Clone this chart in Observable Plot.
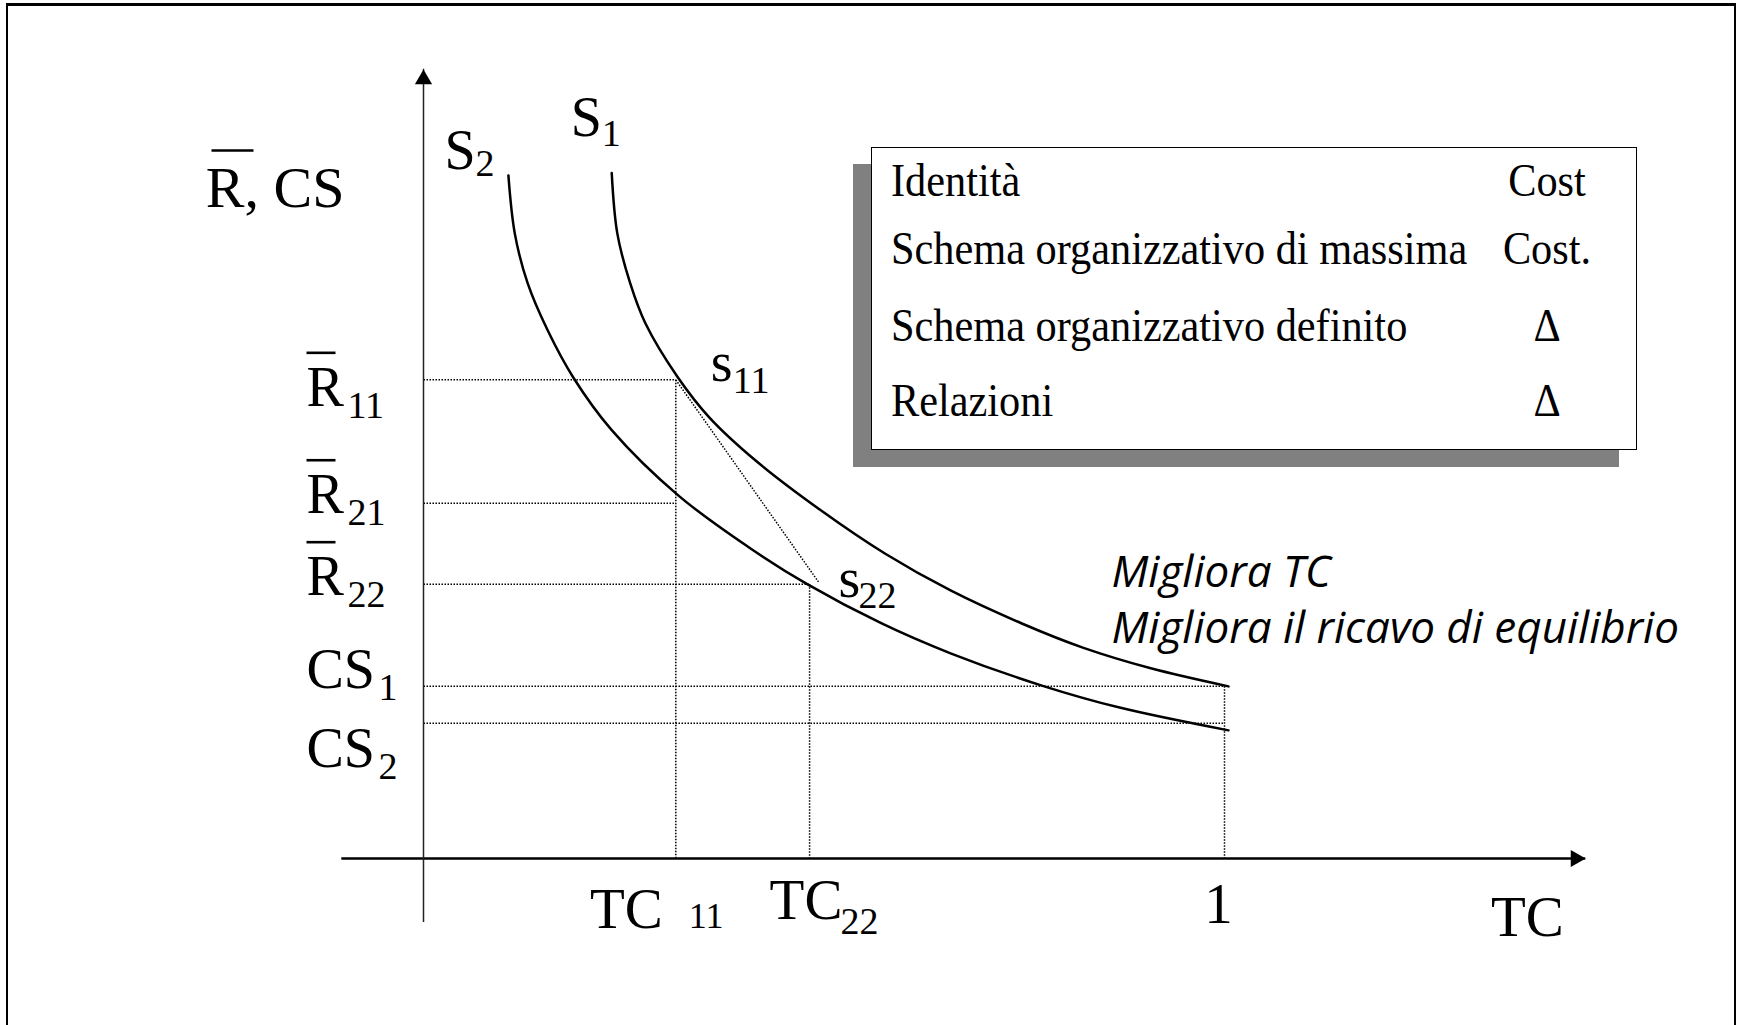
<!DOCTYPE html>
<html>
<head>
<meta charset="utf-8">
<script src="https://cdn.jsdelivr.net/npm/d3@7"></script>
<script src="https://cdn.jsdelivr.net/npm/@observablehq/plot@0.6"></script>
<style>
  html, body { margin: 0; padding: 0; background: #fff; overflow: hidden; }
  #wrap { position: relative; width: 1738px; height: 1025px; overflow: hidden; background: #fff; }
  #chart { position: absolute; left: 0; top: 0; }
  #frame { position: absolute; left: 6px; top: 3px; width: 1726px; height: 1200px;
           border: 2.5px solid #000; border-top-width: 3px; border-bottom: none; pointer-events: none; }
  #legend { position: absolute; left: 871px; top: 147px; width: 764px; height: 301px;
            border: 1.5px solid #000; background: #fff; box-shadow: -18px 17px 0 #808080;
            font-family: "Liberation Serif", serif; font-size: 46px; line-height: 46px; color: #000; }
  #legend .row { position: absolute; left: 18.5px; white-space: nowrap;
                 transform: scaleX(0.92); transform-origin: 0 50%; }
  #legend .val { position: absolute; left: 614.5px; width: 120px; text-align: center; white-space: nowrap;
                 transform: scaleX(0.92); transform-origin: 50% 50%; }
</style>
</head>
<body>
<div id="wrap">
  <div id="chart"></div>
  <div id="legend"></div>
  <div id="frame"></div>
</div>
<script>
// ---------- data ----------
const xKeys = ["TC11", "TC22", "1"];
const xVals = [0.315, 0.482, 1.0];

const yKeys = ["R11", "R21", "R22", "CS1", "CS2"];
const yVals = [6.09, 4.52, 3.49, 2.19, 1.72];

// curve S1 (upper) and S2 (lower): TC on x, R / CS on y
const s1TC = [0.235, 0.242, 0.258, 0.277, 0.317, 0.357, 0.415, 0.496, 0.576, 0.658, 0.747, 0.824, 0.908, 1.005];
const s1R  = [8.72, 7.95, 7.32, 6.81, 6.13, 5.61, 5.06, 4.43, 3.88, 3.41, 2.99, 2.68, 2.42, 2.19];
const s2TC = [0.106, 0.114, 0.130, 0.155, 0.187, 0.235, 0.318, 0.406, 0.479, 0.572, 0.658, 0.772, 0.869, 1.005];
const s2R  = [8.69, 7.95, 7.32, 6.72, 6.12, 5.45, 4.62, 3.96, 3.49, 2.99, 2.61, 2.20, 1.92, 1.63];

// end of the dotted path from s11 toward s22
const diagEnd = [0.493, 3.52];

// axis extents (data units)
const xAxisExtent = [-0.102, 1.451];
const yAxisExtent = [-0.814, 10.04];

// text
const yLabelMain = ["R", "R", "R", "CS", "CS"];
const yLabelSub  = ["11", "21", "22", "1", "2"];
const yLabelBar  = [true, true, true, false, false];

const legendItems  = ["Identità", "Schema organizzativo di massima", "Schema organizzativo definito", "Relazioni"];
const legendStatus = ["Cost", "Cost.", "Δ", "Δ"];

const noteLines = ["Migliora TC", "Migliora il ricavo di equilibrio"];

// ---------- layout / styles (px offsets) ----------
const yLabelDy = [26, 10, 11, 2, 44];
const serif = "Liberation Serif";
const big = 56, small = 38;

// ---------- build ----------
const X = Object.fromEntries(xKeys.map((k, i) => [k, xVals[i]]));
const Y = Object.fromEntries(yKeys.map((k, i) => [k, yVals[i]]));

const guides = [
  {x1: 0, y1: Y.R11, x2: X.TC11, y2: Y.R11},
  {x1: 0, y1: Y.R21, x2: X.TC11, y2: Y.R21},
  {x1: 0, y1: Y.R22, x2: X.TC22, y2: Y.R22},
  {x1: 0, y1: Y.CS1, x2: X["1"], y2: Y.CS1},
  {x1: 0, y1: Y.CS2, x2: X["1"], y2: Y.CS2},
  {x1: X.TC11, y1: Y.R11, x2: X.TC11, y2: 0},
  {x1: X.TC22, y1: Y.R22, x2: X.TC22, y2: 0},
  {x1: X["1"], y1: Y.CS1, x2: X["1"], y2: 0},
  {x1: X.TC11, y1: Y.R11, x2: diagEnd[0], y2: diagEnd[1]}
];

const s1 = s1TC.map((x, i) => ({x, y: s1R[i]}));
const s2 = s2TC.map((x, i) => ({x, y: s2R[i]}));

const barSymbol = {
  draw(ctx, size) {
    const r = Math.sqrt(size / Math.PI);
    ctx.rect(-r, -1.3, 2 * r, 2.6);
  }
};

function label(pt, txt, opts) {
  return Plot.text([pt], {
    x: "x", y: "y", text: () => txt, fontFamily: serif, lineAnchor: "bottom",
    fill: "#000", ...opts
  });
}
function bar(pt, opts) {
  return Plot.dot([pt], {x: "x", y: "y", symbol: barSymbol, fill: "#000", stroke: "none", ...opts});
}

const marks = [];

// dotted guides
marks.push(Plot.link(guides, {x1: "x1", y1: "y1", x2: "x2", y2: "y2",
  stroke: "#000", strokeWidth: 1.5, strokeDasharray: "1.5,1.5"}));

// axes
marks.push(Plot.ruleY([{y: 0, x1: xAxisExtent[0], x2: xAxisExtent[1]}],
  {y: "y", x1: "x1", x2: "x2", stroke: "#000", strokeWidth: 2.5}));
marks.push(Plot.ruleX([{x: 0, y1: yAxisExtent[0], y2: yAxisExtent[1]}],
  {x: "x", y1: "y1", y2: "y2", stroke: "#222", strokeWidth: 1.5}));
marks.push(Plot.dot([{x: 0, y: yAxisExtent[1]}],
  {x: "x", y: "y", symbol: "triangle", r: 6.4, fill: "#000", stroke: "none", dy: 10}));
marks.push(Plot.dot([{x: xAxisExtent[1], y: 0}],
  {x: "x", y: "y", symbol: "triangle", r: 6.4, fill: "#000", stroke: "none", rotate: 90, dx: -10}));

// curves
marks.push(Plot.line(s1, {x: "x", y: "y", curve: "catmull-rom", stroke: "#000", strokeWidth: 2.5}));
marks.push(Plot.line(s2, {x: "x", y: "y", curve: "catmull-rom", stroke: "#000", strokeWidth: 2.5}));

// y-side labels
yKeys.forEach((k, i) => {
  const pt = {x: 0, y: yVals[i]};
  const isR = yLabelMain[i] === "R";
  marks.push(label(pt, yLabelMain[i], {textAnchor: "start", dx: -117, dy: yLabelDy[i], fontSize: big}));
  marks.push(label(pt, yLabelSub[i], {textAnchor: "start", dx: isR ? -76 : -45, dy: yLabelDy[i] + 12, fontSize: small}));
  if (yLabelBar[i]) marks.push(bar(pt, {r: 14.5, dx: -102.5, dy: yLabelDy[i] - 53}));
});

// y-axis title  R̄, CS
const yTop = {x: 0, y: 10};
marks.push(label(yTop, "R, CS", {textAnchor: "end", dx: -79, dy: 134, fontSize: 58}));
marks.push(bar(yTop, {r: 21, dx: -191, dy: 78}));

// x-side labels
const xp = k => ({x: X[k], y: 0});
marks.push(label(xp("TC11"), "TC", {textAnchor: "end", dx: -13, dy: 69, fontSize: 57}));
marks.push(label(xp("TC11"), "11", {textAnchor: "start", dx: 13, dy: 69, fontSize: 36}));
marks.push(label(xp("TC22"), "TC", {textAnchor: "start", dx: -40, dy: 60, fontSize: 57}));
marks.push(label(xp("TC22"), "22", {textAnchor: "start", dx: 31, dy: 75, fontSize: small}));
marks.push(label(xp("1"), "1", {textAnchor: "middle", dx: -6, dy: 64, fontSize: 57}));
marks.push(label({x: xAxisExtent[1], y: 0}, "TC", {textAnchor: "end", dx: -22, dy: 77, fontSize: 57}));

// curve names
const s1Top = s1[0], s2Top = s2[0];
marks.push(label(s1Top, "S", {textAnchor: "start", dx: -41, dy: -37, fontSize: big}));
marks.push(label(s1Top, "1", {textAnchor: "start", dx: -10, dy: -27, fontSize: small}));
marks.push(label(s2Top, "S", {textAnchor: "start", dx: -64, dy: -6, fontSize: big}));
marks.push(label(s2Top, "2", {textAnchor: "start", dx: -33, dy: 1, fontSize: small}));

// equilibrium points
const p11 = {x: X.TC11, y: Y.R11}, p22 = {x: X.TC22, y: Y.R22};
marks.push(label(p11, "s", {textAnchor: "start", dx: 35, dy: 1, fontSize: big}));
marks.push(label(p11, "11", {textAnchor: "start", dx: 57, dy: 13, fontSize: small}));
marks.push(label(p22, "s", {textAnchor: "start", dx: 29, dy: 13, fontSize: big}));
marks.push(label(p22, "22", {textAnchor: "start", dx: 49, dy: 24, fontSize: small}));

// note
marks.push(Plot.text([{x: X["1"], y: Y.CS1}], {
  x: "x", y: "y", text: () => noteLines.join("\n"), textAnchor: "start", lineAnchor: "bottom",
  lineHeight: 1.27, dx: -113, dy: -43, fontSize: 44, fontStyle: "italic", fontFamily: "Open Sans", fill: "#000"
}));

const plot = Plot.plot({
  width: 1738, height: 1025,
  marginLeft: 423, marginRight: 514, marginTop: 72, marginBottom: 167,
  x: {domain: [0, 1], axis: null},
  y: {domain: [0, 10], axis: null},
  style: {background: "transparent", overflow: "visible"},
  marks
});
document.getElementById("chart").appendChild(plot);

// legend
const rowTops = [10, 78, 155, 230];
const lg = document.getElementById("legend");
legendItems.forEach((t, i) => {
  const a = document.createElement("div");
  a.className = "row"; a.style.top = rowTops[i] + "px"; a.textContent = t;
  const b = document.createElement("div");
  b.className = "val"; b.style.top = rowTops[i] + "px"; b.textContent = legendStatus[i];
  lg.appendChild(a); lg.appendChild(b);
});
</script>
</body>
</html>
